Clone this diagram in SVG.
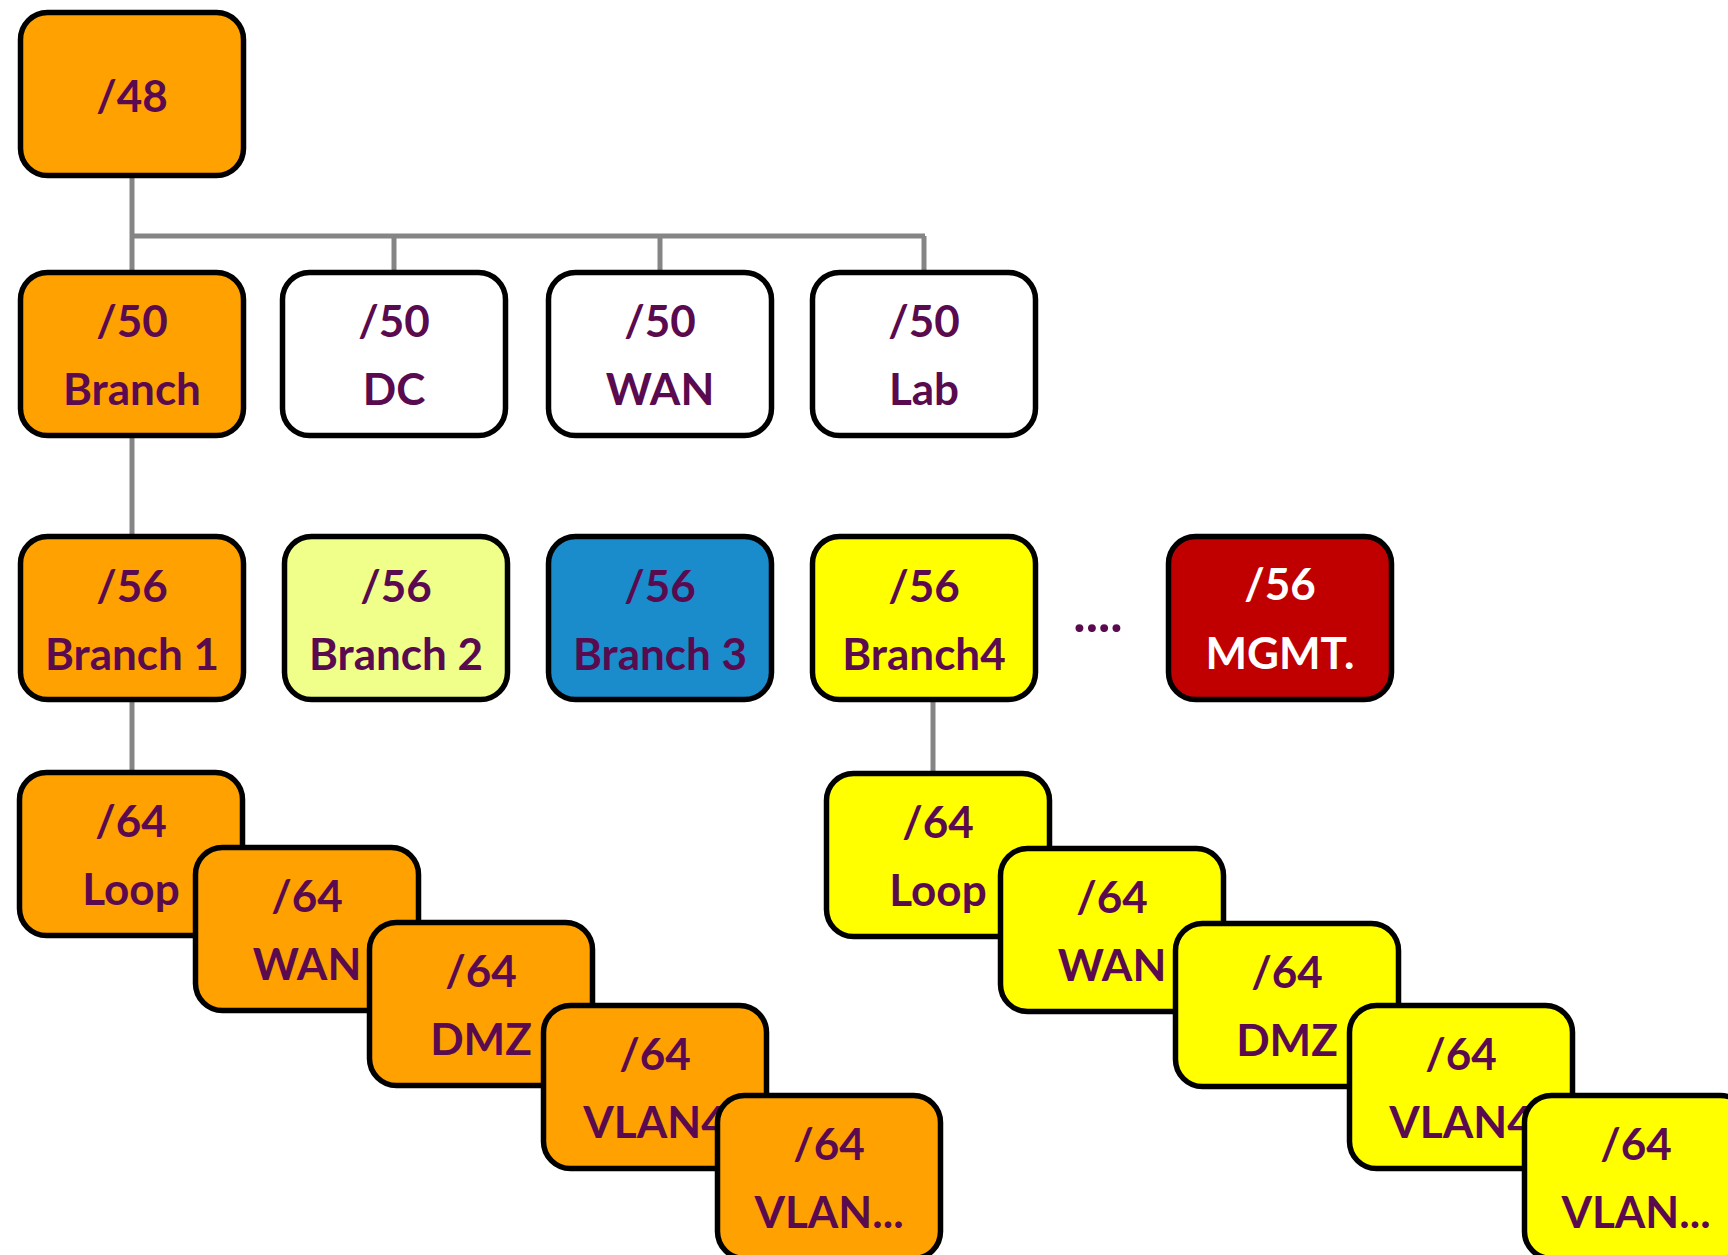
<svg xmlns="http://www.w3.org/2000/svg" width="1728" height="1255" viewBox="0 0 1728 1255">
  <style>
    .box { stroke: #000; stroke-width: 5.5; }
    .orange { fill: #FFA100; }
    .white { fill: #FFFFFF; }
    .pale { fill: #EFFF8A; }
    .blue { fill: #1A8BCB; }
    .yellow { fill: #FFFF00; }
    .red { fill: #C00000; }
    .t { font-family: Lato, "Open Sans", "Liberation Sans", sans-serif; font-weight: bold; font-size: 44px; fill: #5A0A4E; text-anchor: middle; }
    .tw { fill: #FFFFFF; }
    .dots { font-size: 52px; }
    .link { stroke: #858585; stroke-width: 5; fill: none; }
  </style>

  <!-- tree connectors -->
  <g id="connectors">
    <path class="link" d="M132 178 V272"/>
    <path class="link" d="M132 236 H925"/>
    <path class="link" d="M394 236 V272"/>
    <path class="link" d="M660 236 V272"/>
    <path class="link" d="M924 236 V272"/>
    <path class="link" d="M132 438 V536"/>
    <path class="link" d="M132 702 V772"/>
    <path class="link" d="M933 702 V773"/>
  </g>

  <!-- /48 root -->
  <g id="n48">
    <rect class="box orange" x="20.5" y="12.5" width="223" height="163" rx="27"/>
    <text class="t" x="132" y="112">/48</text>
  </g>

  <!-- /50 level -->
  <g id="n50-branch">
    <rect class="box orange" x="20.5" y="272.5" width="223" height="163" rx="27"/>
    <text class="t" x="132" y="337">/50</text>
    <text class="t" x="132" y="405">Branch</text>
  </g>
  <g id="n50-dc">
    <rect class="box white" x="282.5" y="272.5" width="223" height="163" rx="27"/>
    <text class="t" x="394" y="337">/50</text>
    <text class="t" x="394" y="405">DC</text>
  </g>
  <g id="n50-wan">
    <rect class="box white" x="548.5" y="272.5" width="223" height="163" rx="27"/>
    <text class="t" x="660" y="337">/50</text>
    <text class="t" x="660" y="405">WAN</text>
  </g>
  <g id="n50-lab">
    <rect class="box white" x="812.5" y="272.5" width="223" height="163" rx="27"/>
    <text class="t" x="924" y="337">/50</text>
    <text class="t" x="924" y="405">Lab</text>
  </g>

  <!-- /56 level -->
  <g id="n56-branch1">
    <rect class="box orange" x="20.5" y="536.5" width="223" height="163" rx="27"/>
    <text class="t" x="132" y="602">/56</text>
    <text class="t" x="132" y="670">Branch 1</text>
  </g>
  <g id="n56-branch2">
    <rect class="box pale" x="284.5" y="536.5" width="223" height="163" rx="27"/>
    <text class="t" x="396" y="602">/56</text>
    <text class="t" x="396" y="670">Branch 2</text>
  </g>
  <g id="n56-branch3">
    <rect class="box blue" x="548.5" y="536.5" width="223" height="163" rx="27"/>
    <text class="t" x="660" y="602">/56</text>
    <text class="t" x="660" y="670">Branch 3</text>
  </g>
  <g id="n56-branch4">
    <rect class="box yellow" x="812.5" y="536.5" width="223" height="163" rx="27"/>
    <text class="t" x="924" y="602">/56</text>
    <text class="t" x="924" y="670">Branch4</text>
  </g>
  <g id="ellipsis">
    <text class="t dots" x="1098" y="632">....</text>
  </g>
  <g id="n56-mgmt">
    <rect class="box red" x="1168.5" y="536.5" width="223" height="163" rx="27"/>
    <text class="t tw" x="1280" y="600">/56</text>
    <text class="t tw" x="1280" y="669">MGMT.</text>
  </g>

  <!-- /64 subnets of Branch 1 -->
  <g id="b1-loop">
    <rect class="box orange" x="19.5" y="772.5" width="223" height="163" rx="27"/>
    <text class="t" x="131" y="837">/64</text>
    <text class="t" x="131" y="905">Loop</text>
  </g>
  <g id="b1-wan">
    <rect class="box orange" x="195.5" y="847.5" width="223" height="163" rx="27"/>
    <text class="t" x="307" y="912">/64</text>
    <text class="t" x="307" y="980">WAN</text>
  </g>
  <g id="b1-dmz">
    <rect class="box orange" x="369.5" y="922.5" width="223" height="163" rx="27"/>
    <text class="t" x="481" y="987">/64</text>
    <text class="t" x="481" y="1055">DMZ</text>
  </g>
  <g id="b1-vlan4">
    <rect class="box orange" x="543.5" y="1005.5" width="223" height="163" rx="27"/>
    <text class="t" x="655" y="1070">/64</text>
    <text class="t" x="655" y="1138">VLAN4</text>
  </g>
  <g id="b1-vlann">
    <rect class="box orange" x="717.5" y="1095.5" width="223" height="163" rx="27"/>
    <text class="t" x="829" y="1160">/64</text>
    <text class="t" x="829" y="1228">VLAN...</text>
  </g>

  <!-- /64 subnets of Branch4 -->
  <g id="b4-loop">
    <rect class="box yellow" x="826.5" y="773.5" width="223" height="163" rx="27"/>
    <text class="t" x="938" y="838">/64</text>
    <text class="t" x="938" y="906">Loop</text>
  </g>
  <g id="b4-wan">
    <rect class="box yellow" x="1000.5" y="848.5" width="223" height="163" rx="27"/>
    <text class="t" x="1112" y="913">/64</text>
    <text class="t" x="1112" y="981">WAN</text>
  </g>
  <g id="b4-dmz">
    <rect class="box yellow" x="1175.5" y="923.5" width="223" height="163" rx="27"/>
    <text class="t" x="1287" y="988">/64</text>
    <text class="t" x="1287" y="1056">DMZ</text>
  </g>
  <g id="b4-vlan4">
    <rect class="box yellow" x="1349.5" y="1005.5" width="223" height="163" rx="27"/>
    <text class="t" x="1461" y="1070">/64</text>
    <text class="t" x="1461" y="1138">VLAN4</text>
  </g>
  <g id="b4-vlann">
    <rect class="box yellow" x="1524.5" y="1095.5" width="223" height="163" rx="27"/>
    <text class="t" x="1636" y="1160">/64</text>
    <text class="t" x="1636" y="1228">VLAN...</text>
  </g>
</svg>
